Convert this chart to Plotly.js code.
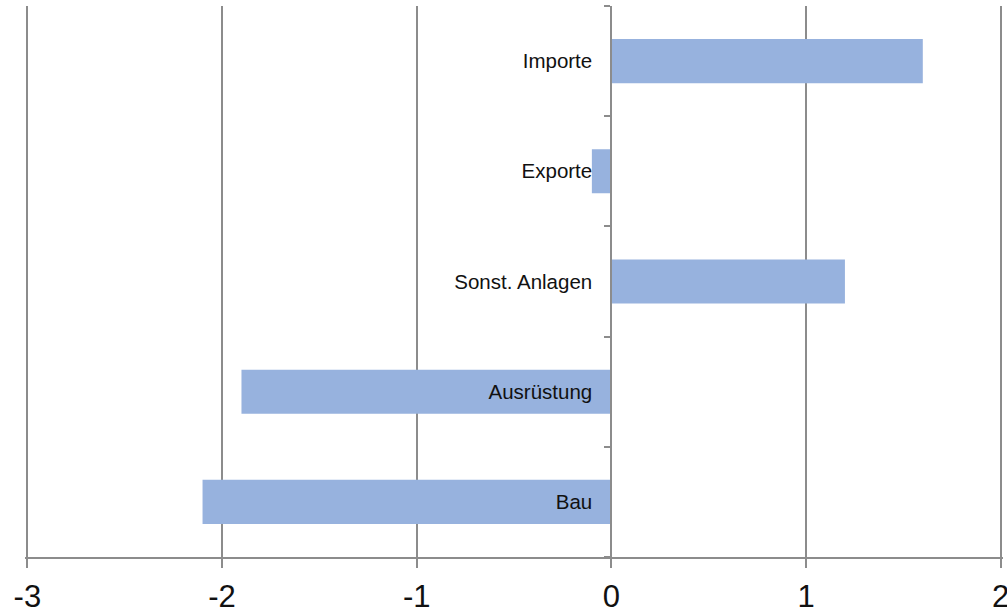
<!DOCTYPE html>
<html>
<head>
<meta charset="utf-8">
<script src="https://cdn.plot.ly/plotly-3.0.1.min.js"></script>
<style>html,body{margin:0;padding:0;background:#fff;}#chart{width:1007px;height:610px;}</style>
</head>
<body>
<div id="chart"></div>
<script>
const categories = ['Bau', 'Ausrüstung', 'Sonst. Anlagen', 'Exporte', 'Importe'];
const values = [-2.1, -1.9, 1.2, -0.1, 1.6];
const xTicks = [-3, -2, -1, 0, 1, 2];

const gray = '#8c8c8c';
const trace = {
  type: 'bar',
  orientation: 'h',
  y: categories,
  x: values,
  width: 0.4,
  marker: {color: '#97b2de'},
  hoverinfo: 'x+y'
};

const layout = {
  width: 1007,
  height: 610,
  margin: {l: 25, r: 4, t: 6, b: 53},
  paper_bgcolor: '#fff',
  plot_bgcolor: '#fff',
  showlegend: false,
  font: {family: 'Arial, "Liberation Sans", sans-serif', color: '#111'},
  xaxis: {
    range: [-3.012, 2.012],
    tickvals: xTicks,
    ticktext: xTicks.map(String),
    showgrid: true,
    gridcolor: gray,
    gridwidth: 2,
    zeroline: false,
    showline: true,
    linecolor: gray,
    linewidth: 2,
    ticks: 'outside',
    ticklen: 9,
    tickwidth: 2,
    tickcolor: gray,
    ticklabeloverflow: 'allow',
    ticklabelstandoff: 2,
    tickfont: {size: 31, color: '#111'},
    fixedrange: true
  },
  yaxis: {
    type: 'category',
    categoryorder: 'array',
    categoryarray: categories,
    range: [-0.5, 4.5],
    anchor: 'free',
    position: 3.012 / 5.024,
    showgrid: false,
    zeroline: false,
    showline: true,
    linecolor: gray,
    linewidth: 2,
    ticks: 'outside',
    tickson: 'boundaries',
    ticklen: 6,
    tickwidth: 2,
    tickcolor: gray,
    ticklabelstandoff: 14,
    tickfont: {size: 20.5, color: '#111'},
    fixedrange: true
  },
  bargap: 0.6
};

Plotly.newPlot('chart', [trace], layout, {displayModeBar: false, staticPlot: true});
</script>
</body>
</html>
